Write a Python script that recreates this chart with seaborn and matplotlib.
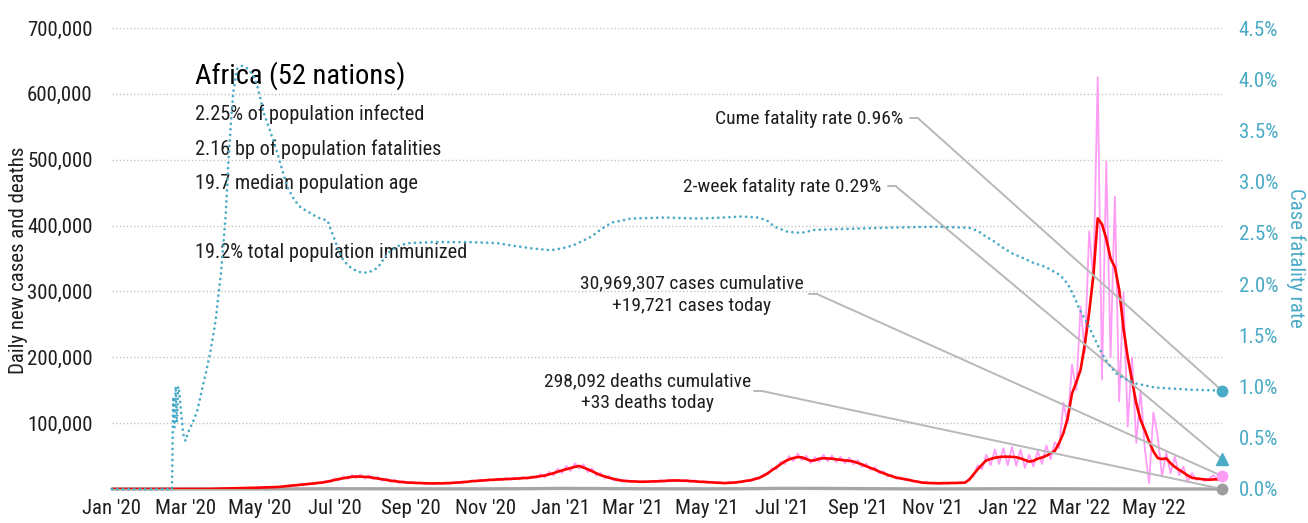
import matplotlib
matplotlib.use("Agg")
import matplotlib.pyplot as plt
import matplotlib.dates as mdates
from matplotlib import font_manager
from matplotlib.ticker import FixedLocator, FuncFormatter
import pandas as pd
import seaborn as sns

# ---------------------------------------------------------------- data
region_title = "Africa (52 nations)"
stat_lines = [
    "2.25% of population infected",
    "2.16 bp of population fatalities",
    "19.7 median population age",
    "",
    "19.2% total population immunized",
]

series_start = "2020-01-01"
series_step = "84h"          # two readings per week

# 7-day average of new cases, thousands
cases_avg_k = [
    0, 0, 0, 0, 0, 0, 0, 0, 0, 0,
    0, 0, 0, 0, 0, 0, 0, 0, 0.01, 0.03,
    0.05, 0.1, 0.15, 0.2, 0.35, 0.5, 0.65, 0.8, 0.95, 1.05,
    1.2, 1.4, 1.6, 1.8, 2.0, 2.2, 2.4, 2.6, 2.9, 3.2,
    3.9, 4.6, 5.2, 5.8, 6.4, 7.0, 7.7, 8.4, 9.1, 9.8,
    10.8, 12.3, 13.8, 15.2, 16.4, 17.5, 18.4, 19.0, 18.8, 18.4,
    18.0, 17.0, 15.9, 14.8, 13.8, 12.7, 11.8, 11.0, 10.3, 9.8,
    9.5, 9.2, 8.9, 8.7, 8.5, 8.5, 8.5, 8.6, 8.8, 9.1,
    9.5, 9.9, 10.4, 11.1, 11.8, 12.3, 12.8, 13.3, 13.7, 14.1,
    14.4, 14.7, 14.9, 15.3, 15.7, 16.1, 16.5, 16.9, 17.6, 18.5,
    19.5, 20.5, 22.2, 24.0, 26.3, 28.2, 30.0, 31.8, 33.6, 35.0,
    32.5, 30.0, 27.0, 24.0, 21.0, 19.0, 17.0, 15.3, 13.7, 12.8,
    12.0, 11.7, 11.4, 11.1, 11.0, 11.2, 11.3, 11.5, 11.9, 12.3,
    12.7, 13.0, 12.9, 12.7, 12.5, 12.0, 11.6, 11.1, 10.8, 10.4,
    10.0, 9.6, 9.3, 9.0, 9.3, 9.7, 10.3, 11.3, 12.3, 13.3,
    15.0, 17.0, 20.0, 24.0, 28.5, 33.0, 37.5, 42.0, 45.0, 47.0,
    48.5, 48.0, 45.5, 43.0, 43.5, 46.0, 46.7, 46.3, 46.0, 45.0,
    44.2, 43.5, 42.8, 41.8, 39.5, 37.3, 34.5, 32.0, 29.5, 26.5,
    24.0, 21.5, 19.3, 17.3, 16.0, 15.0, 13.6, 12.2, 11.0, 9.8,
    9.3, 9.0, 8.8, 8.7, 8.8, 8.9, 9.0, 9.2, 9.4, 9.6,
    14.0, 22.0, 30.0, 37.0, 43.5, 45.5, 47.5, 48.5, 49.0, 49.0,
    48.8, 48.2, 46.5, 44.0, 41.6, 42.8, 46.0, 47.8, 50.5, 54.0,
    58.0, 70.0, 85.0, 108.0, 145.0, 162.0, 181.0, 220.0, 268.0, 325.0,
    411.0, 402.0, 380.0, 350.0, 337.0, 303.0, 245.0, 200.0, 165.0, 130.0,
    105.0, 89.0, 72.0, 57.0, 47.0, 45.5, 46.5, 39.0, 33.5, 29.0,
    25.0, 20.5, 17.0, 16.0, 15.2, 14.5, 14.0, 14.5, 14.8, 15.0,
]

# reported new cases, thousands
cases_daily_k = [
    0, 0, 0, 0, 0, 0, 0, 0, 0, 0,
    0, 0, 0, 0, 0, 0, 0, 0, 0.02, 0.02,
    0.08, 0.08, 0.2, 0.15, 0.45, 0.4, 0.8, 0.7, 1.1, 0.95,
    1.4, 1.1, 1.9, 1.5, 2.3, 1.9, 2.8, 2.3, 3.3, 2.8,
    4.4, 4.0, 5.9, 4.9, 7.2, 6.1, 8.6, 7.2, 10.2, 8.7,
    12.8, 10.6, 16.2, 13.0, 19.4, 15.2, 21.5, 16.4, 22.0, 15.6,
    21.0, 14.6, 18.6, 12.6, 16.2, 10.8, 13.9, 9.4, 12.1, 8.3,
    10.5, 8.4, 9.9, 7.9, 9.5, 7.7, 9.5, 7.8, 9.8, 8.3,
    10.6, 9.0, 11.6, 10.0, 13.1, 11.1, 14.2, 12.1, 15.2, 12.8,
    16.0, 13.3, 16.5, 13.9, 17.4, 14.6, 18.3, 15.3, 19.5, 16.8,
    22.8, 17.6, 26.0, 20.4, 30.8, 24.2, 35.0, 27.2, 39.0, 31.0,
    37.5, 25.5, 31.5, 20.5, 24.5, 16.0, 20.0, 13.0, 16.0, 10.9,
    13.4, 10.5, 12.7, 10.0, 12.3, 10.1, 12.6, 10.3, 13.3, 11.0,
    14.2, 11.7, 14.4, 11.4, 14.0, 10.8, 13.0, 10.0, 12.1, 9.4,
    11.2, 8.6, 10.4, 8.1, 10.4, 8.7, 11.5, 10.2, 13.7, 12.0,
    16.8, 15.3, 22.4, 21.6, 31.5, 29.7, 41.5, 38.0, 50.0, 42.5,
    54.0, 43.5, 50.5, 39.0, 48.5, 41.5, 52.0, 42.0, 51.0, 40.5,
    49.0, 39.0, 47.5, 37.5, 44.0, 33.5, 38.5, 29.0, 33.0, 24.0,
    27.0, 19.3, 21.6, 15.5, 18.0, 13.5, 15.2, 11.0, 12.3, 8.8,
    10.4, 8.1, 9.8, 7.8, 9.8, 8.0, 10.0, 8.3, 10.5, 8.6,
    16.0, 19.0, 36.0, 30.0, 52.0, 36.0, 60.0, 38.0, 62.0, 36.0,
    64.0, 35.0, 60.0, 32.0, 52.0, 34.0, 58.0, 38.0, 66.0, 45.0,
    71.0, 62.0, 131.0, 100.0, 189.0, 150.0, 277.0, 207.0, 391.0, 318.0,
    625.0, 166.0, 497.0, 200.0, 444.0, 133.0, 298.0, 95.0, 200.0, 70.0,
    150.0, 60.0, 9.0, 116.0, 80.0, 19.0, 55.0, 24.0, 49.0, 21.0,
    34.0, 11.0, 24.0, 13.7, 16.0, 12.0, 16.0, 21.0, 13.7, 19.7,
]

# 7-day average of new deaths
death_dates = [
    "2020-01-01", "2020-02-01", "2020-03-01", "2020-04-01", "2020-05-01", "2020-06-01",
    "2020-07-01", "2020-08-01", "2020-09-01", "2020-10-01", "2020-11-01", "2020-12-01",
    "2021-01-01", "2021-02-01", "2021-03-01", "2021-04-01", "2021-05-01", "2021-06-01",
    "2021-07-01", "2021-08-01", "2021-09-01", "2021-10-01", "2021-11-01", "2021-12-01",
    "2022-01-01", "2022-02-01", "2022-03-01", "2022-04-01", "2022-05-01", "2022-06-01",
    "2022-06-25T12:00",
]
deaths_avg = [
    0, 0, 5, 40, 80, 200, 400, 350, 250, 200, 250, 450,
    900, 700, 400, 300, 250, 400, 1000, 900, 600, 300, 150, 200,
    450, 350, 250, 100, 50, 30, 33,
]

# cumulative case fatality rate, percent
cfr_dates = [
    "2020-01-01", "2020-02-19", "2020-02-20", "2020-02-21", "2020-02-22", "2020-02-23",
    "2020-02-24", "2020-02-25", "2020-02-26", "2020-02-27", "2020-02-28", "2020-02-29",
    "2020-03-01", "2020-03-03", "2020-03-05", "2020-03-08", "2020-03-11", "2020-03-15",
    "2020-03-18", "2020-03-21", "2020-03-24", "2020-03-26", "2020-03-28", "2020-03-30",
    "2020-04-01", "2020-04-03", "2020-04-05", "2020-04-07", "2020-04-09", "2020-04-12",
    "2020-04-16", "2020-04-20", "2020-04-25", "2020-04-29", "2020-05-04", "2020-05-09",
    "2020-05-15", "2020-05-23", "2020-05-29", "2020-06-03", "2020-06-10", "2020-06-17",
    "2020-06-25", "2020-06-30", "2020-07-04", "2020-07-08", "2020-07-14", "2020-07-20",
    "2020-07-28", "2020-08-05", "2020-08-13", "2020-08-21", "2020-08-30", "2020-09-20",
    "2020-10-18", "2020-11-11", "2020-11-26", "2020-12-08", "2020-12-24", "2021-01-03",
    "2021-01-12", "2021-01-26", "2021-02-04", "2021-02-12", "2021-02-28", "2021-03-27",
    "2021-04-24", "2021-05-15", "2021-05-29", "2021-06-12", "2021-06-19", "2021-06-25",
    "2021-07-06", "2021-07-17", "2021-07-28", "2021-08-25", "2021-09-23", "2021-11-03",
    "2021-12-01", "2021-12-08", "2021-12-14", "2021-12-21", "2021-12-28", "2022-01-05",
    "2022-01-13", "2022-01-22", "2022-02-01", "2022-02-07", "2022-02-13", "2022-02-17",
    "2022-02-21", "2022-02-25", "2022-03-01", "2022-03-05", "2022-03-09", "2022-03-13",
    "2022-03-17", "2022-03-21", "2022-03-26", "2022-03-31", "2022-04-05", "2022-04-10",
    "2022-04-16", "2022-04-24", "2022-05-02", "2022-05-16", "2022-05-30", "2022-06-13",
    "2022-06-25T12:00",
]
cfr_pct = [
    0, 0, 0.9, 0.6, 1.0, 0.65,
    1.0, 0.95, 0.8, 0.68, 0.55, 0.5,
    0.47, 0.55, 0.6, 0.68, 0.78, 1.0,
    1.15, 1.32, 1.52, 1.68, 1.9, 2.11,
    2.4, 2.7, 3.18, 3.55, 3.87, 4.1,
    4.13, 4.11, 4.05, 3.92, 3.67, 3.5,
    3.28, 2.95, 2.82, 2.75, 2.7, 2.65,
    2.62, 2.46, 2.33, 2.23, 2.16, 2.12,
    2.11, 2.16, 2.3, 2.37, 2.4, 2.41,
    2.41, 2.4, 2.37, 2.35, 2.33, 2.35,
    2.38, 2.46, 2.54, 2.6, 2.64, 2.65,
    2.64, 2.65, 2.66, 2.65, 2.62, 2.56,
    2.51, 2.5, 2.53, 2.54, 2.55, 2.56,
    2.55, 2.52, 2.47, 2.42, 2.36, 2.3,
    2.26, 2.21, 2.17, 2.13, 2.09, 2.04,
    1.97, 1.87, 1.76, 1.67, 1.58, 1.48,
    1.38, 1.29, 1.2, 1.13, 1.09, 1.06,
    1.03, 1.01, 0.99, 0.98, 0.97, 0.965,
    0.96,
]

cases_total = 30969307
cases_today = 19721
deaths_total = 298092
deaths_today = 33
cume_rate = 0.96
two_week_rate = 0.29

case_ticks = [100000, 200000, 300000, 400000, 500000, 600000, 700000]
rate_ticks = [0.0, 0.5, 1.0, 1.5, 2.0, 2.5, 3.0, 3.5, 4.0, 4.5]

# ---------------------------------------------------------------- style
PINK = "#ff9cf5"
RED = "#ff0000"
GREY = "#a6a6a6"
TEAL = "#4aabc7"
LEADER = "#b8b8b8"
INK = "#1e1e1e"

sns.set_theme(style="white")
names = {f.name for f in font_manager.fontManager.ttflist}
stretch = "normal"
for cand in ["Liberation Sans Narrow", "Roboto Condensed", "Open Sans Condensed"]:
    if cand in names:
        base_font = cand
        break
else:
    base_font = "DejaVu Sans"
    stretch = "condensed"
plt.rcParams["font.family"] = [base_font, "DejaVu Sans"]
plt.rcParams["font.stretch"] = stretch

# ---------------------------------------------------------------- frames
dates = pd.date_range(series_start, periods=len(cases_avg_k), freq=series_step)
cases = pd.DataFrame({
    "date": dates,
    "daily": [v * 1000 for v in cases_daily_k],
    "avg": [v * 1000 for v in cases_avg_k],
})
deaths = pd.DataFrame({"date": pd.to_datetime(death_dates, format="ISO8601"),
                       "avg": deaths_avg})
cfr = pd.DataFrame({"date": pd.to_datetime(cfr_dates, format="ISO8601"),
                    "pct": cfr_pct})
last_date = dates[-1]
last_num = mdates.date2num(last_date)

# ---------------------------------------------------------------- figure
fig = plt.figure(figsize=(13.08, 5.23), dpi=100)
ax = fig.add_axes([112 / 1308, 34 / 523, 1110 / 1308, 461 / 523])
ax2 = ax.twinx()

sns.lineplot(data=cases, x="date", y="daily", ax=ax, color=PINK, lw=1.3, zorder=2)
sns.lineplot(data=deaths, x="date", y="avg", ax=ax, color=GREY, lw=2.4, zorder=3,
             clip_on=False)
sns.lineplot(data=cases, x="date", y="avg", ax=ax, color=RED, lw=1.9, zorder=4)
sns.lineplot(data=cfr, x="date", y="pct", ax=ax2, color=TEAL, lw=2.0,
             linestyle=(0, (0.001, 2.0)), dash_capstyle="round", zorder=3,
             clip_on=False)

ax.set_xlim(dates[0], last_date)
ax.set_ylim(0, 700000)
ax2.set_ylim(0, 4.5)

# axes furniture
for a in (ax, ax2):
    for s in a.spines.values():
        s.set_visible(False)
    a.tick_params(length=0)

ax.xaxis.set_major_locator(mdates.MonthLocator(bymonth=[1, 3, 5, 7, 9, 11]))
ax.xaxis.set_major_formatter(mdates.DateFormatter("%b '%y"))
ax.tick_params(axis="x", labelsize=15, colors=INK, pad=7)

ax.yaxis.set_major_locator(FixedLocator(case_ticks))
ax.yaxis.set_major_formatter(FuncFormatter(lambda v, p: f"{v:,.0f}"))
ax.tick_params(axis="y", labelsize=15, colors=INK, pad=14)
ax.grid(axis="y", color="#c4c4c4", lw=1.0, linestyle=(0, (1, 1.6)))
ax.grid(axis="x", visible=False)

ax2.yaxis.set_major_locator(FixedLocator(rate_ticks))
ax2.yaxis.set_major_formatter(FuncFormatter(lambda v, p: f"{v:.1f}%"))
ax2.tick_params(axis="y", labelsize=15, colors=TEAL, pad=12)
ax2.grid(False)

ax.set_xlabel("")
ax.set_ylabel("Daily new cases and deaths", fontsize=15, color=INK)
ax.yaxis.set_label_coords(-0.076, 0.497)
ax2.set_ylabel("Case fatality rate", fontsize=15, color=TEAL, rotation=270,
               va="center")
ax2.yaxis.set_label_coords(1.066, 0.501)

# end-of-series markers
ax.plot([last_date], [cases_today], "o", color=PINK, ms=7.5, zorder=6, clip_on=False)
ax.plot([last_date], [deaths_today], "o", color="#9e9e9e", ms=7.5, zorder=6, clip_on=False)
ax2.plot([last_date], [cume_rate], "o", color=TEAL, ms=7.5, zorder=6, clip_on=False)
ax2.plot([last_date], [two_week_rate], "^", color=TEAL, ms=8, zorder=6, clip_on=False)

# headline block
ax.text(0.0748, 0.8785, region_title, transform=ax.transAxes, fontsize=20.5,
        color="black", va="baseline", ha="left", zorder=1)
for i, line in enumerate(stat_lines):
    if line:
        ax.text(0.0748, 0.8004 - i * 0.07505, line, transform=ax.transAxes,
                fontsize=14.6, color=INK, va="baseline", ha="left", zorder=1)


def callout(text, tx, ty, ha, stub, target_ax, target_y):
    ax.text(tx, ty, text, transform=ax.transAxes, fontsize=14, color=INK,
            ha=ha, va="center", multialignment="center", linespacing=1.3)
    ax.plot(stub, [ty + 0.002, ty + 0.002], transform=ax.transAxes, color=LEADER,
            lw=1.4, clip_on=False, zorder=5)
    ax.annotate("", xy=(last_num, target_y), xycoords=target_ax.transData,
                xytext=(stub[1], ty + 0.002), textcoords=ax.transAxes,
                arrowprops=dict(arrowstyle="-", color=LEADER, lw=1.4,
                                shrinkA=0, shrinkB=0), zorder=5)


callout(f"Cume fatality rate {cume_rate:.2f}%", 0.7126, 0.8026, "right",
        [0.719, 0.726], ax2, cume_rate)
callout(f"2-week fatality rate {two_week_rate:.2f}%", 0.6928, 0.655, "right",
        [0.699, 0.706], ax2, two_week_rate)
callout(f"{cases_total:,} cases cumulative\n+{cases_today:,} cases today",
        0.522, 0.421, "center", [0.628, 0.635], ax, cases_today)
callout(f"{deaths_total:,} deaths cumulative\n+{deaths_today:,} deaths today",
        0.4824, 0.2104, "center", [0.578, 0.586], ax, deaths_today)

fig.savefig("out.png", dpi=100)
